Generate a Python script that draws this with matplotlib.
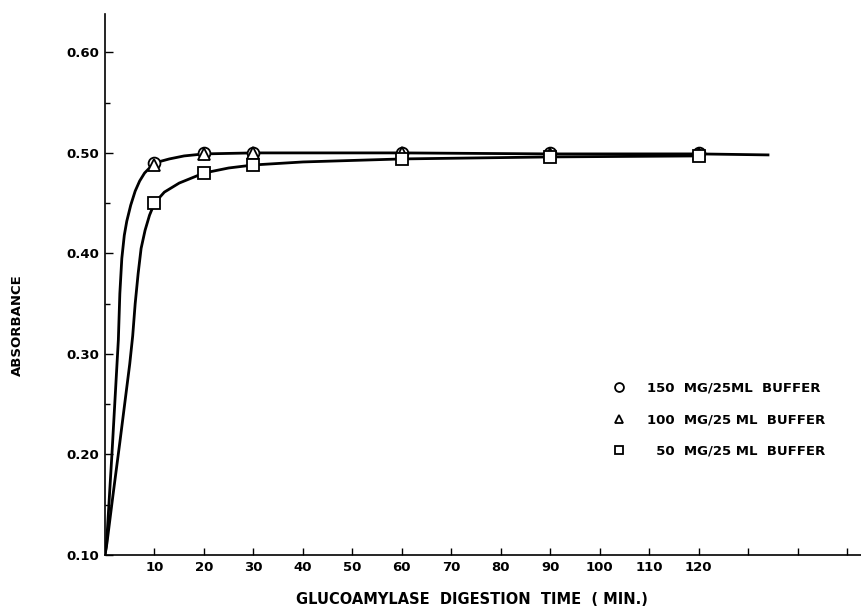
import matplotlib
matplotlib.use("Agg")
import matplotlib.pyplot as plt
from matplotlib.ticker import MultipleLocator

plt.rcParams["font.family"] = ["DejaVu Sans"]
plt.rcParams["font.weight"] = "bold"

# --- Data ---

times = [10, 20, 30, 60, 90, 120]
abs_150 = [0.490, 0.500, 0.500, 0.500, 0.500, 0.500]
abs_100 = [0.488, 0.499, 0.500, 0.500, 0.499, 0.499]
abs_50 = [0.450, 0.480, 0.488, 0.494, 0.496, 0.497]

# hand-drawn fitted curves, traced point by point
upper_t = [0, 0.3, 1.4, 2.7, 3.0, 3.4, 3.9, 4.4, 5.2, 6.1, 7.0, 8.0, 10,
           13, 16, 20, 30, 60, 90, 120, 134]
upper_y = [0.10, 0.11, 0.20, 0.314, 0.36, 0.395, 0.418, 0.432, 0.448, 0.462,
           0.472, 0.480, 0.490, 0.494, 0.497, 0.499, 0.500, 0.500, 0.499,
           0.499, 0.498]
lower_t = [0, 0.4, 1.6, 3.0, 5.0, 5.6, 6.1, 6.7, 7.3, 8.1, 9.0, 10, 12, 15,
           20, 25, 30, 40, 60, 90, 120]
lower_y = [0.10, 0.112, 0.159, 0.212, 0.290, 0.318, 0.350, 0.380, 0.405,
           0.423, 0.438, 0.450, 0.461, 0.470, 0.480, 0.485, 0.488, 0.491,
           0.494, 0.496, 0.497]

xticks = [10, 20, 30, 40, 50, 60, 70, 80, 90, 100, 110, 120, 130, 140, 150]
xtick_labels = ["10", "20", "30", "40", "50", "60", "70", "80", "90",
                "100", "110", "120", "", "", ""]
yticks = [0.10, 0.20, 0.30, 0.40, 0.50, 0.60]
ytick_labels = ["0.10", "0.20", "0.30", "0.40", "0.50", "0.60"]

legend_labels = ["150  MG/25ML  BUFFER", "100  MG/25 ML  BUFFER", "  50  MG/25 ML  BUFFER"]

# --- Figure ---

fig = plt.figure(figsize=(8.62, 6.09), dpi=100)
ax = fig.add_axes([0.1218, 0.0887, 0.8782, 0.888])

ax.plot(upper_t, upper_y, color="black", lw=2.0, zorder=2)
ax.plot(lower_t, lower_y, color="black", lw=2.0, zorder=2)

mk = dict(linestyle="none", markerfacecolor="white", markeredgecolor="black",
          markeredgewidth=1.3, zorder=3)
h150, = ax.plot(times, abs_150, marker="o", markersize=8.5, **mk)
h100, = ax.plot(times, abs_100, marker="^", markersize=8.5, **mk)
h50, = ax.plot(times, abs_50, marker="s", markersize=8.5, **mk)

ax.set_xlim(0, 153)
ax.set_ylim(0.10, 0.638)

for side in ("top", "right"):
    ax.spines[side].set_visible(False)
for side in ("left", "bottom"):
    ax.spines[side].set_linewidth(1.2)

ax.set_xticks(xticks)
ax.set_xticklabels(xtick_labels)
ax.set_yticks(yticks)
ax.set_yticklabels(ytick_labels)
ax.yaxis.set_minor_locator(MultipleLocator(0.05))

ax.tick_params(axis="x", direction="in", length=5, width=1, pad=4, labelsize=9.5)
ax.tick_params(axis="y", which="major", direction="in", length=6, width=1,
               pad=4, labelsize=9.5)
ax.tick_params(axis="y", which="minor", direction="in", length=3.5, width=1)

fig.text(0.548, 0.004, "GLUCOAMYLASE  DIGESTION  TIME  ( MIN.)",
         ha="center", va="bottom", fontsize=10.5, fontweight="bold")
fig.text(0.02, 0.466, "ABSORBANCE", rotation=90, ha="center", va="center",
         fontsize=9.5, fontweight="bold")

ax.legend([h150, h100, h50], legend_labels, loc="upper left",
          bbox_to_anchor=(0.655, 0.342), frameon=False, markerscale=0.75,
          handlelength=1.0, handletextpad=1.6, labelspacing=1.4,
          prop={"weight": "bold", "size": 9.5})

fig.savefig("out.png", dpi=100)
